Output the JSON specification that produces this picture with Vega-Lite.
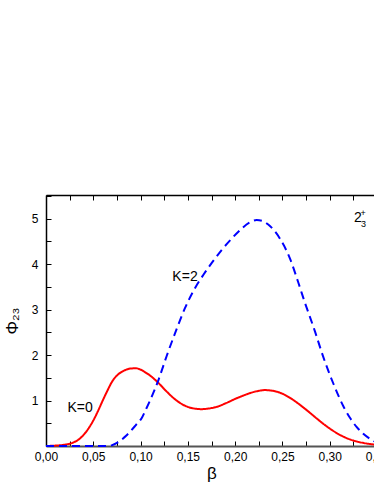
{
  "$schema": "https://vega.github.io/schema/vega-lite/v6.json",
  "autosize": {"type": "none"},
  "width": 328,
  "height": 251,
  "padding": {"left": 46, "top": 195, "right": 0, "bottom": 38},
  "background": "white",
  "config": {
    "view": {"stroke": null},
    "font": "Liberation Sans",
    "axis": {"grid": false, "labelFont": "Liberation Sans", "titleFont": "Liberation Sans", "labelColor": "black", "titleColor": "black", "tickColor": "black", "labelFlush": false, "labelOverlap": false, "labelBound": false}
  },
  "datasets": {
    "curves": [
      {"beta": 0.0, "phi": 0, "K": "K=0"},
      {"beta": 0.01, "phi": 0.01, "K": "K=0"},
      {"beta": 0.02, "phi": 0.03, "K": "K=0"},
      {"beta": 0.028, "phi": 0.07, "K": "K=0"},
      {"beta": 0.035, "phi": 0.15, "K": "K=0"},
      {"beta": 0.04, "phi": 0.25, "K": "K=0"},
      {"beta": 0.046, "phi": 0.42, "K": "K=0"},
      {"beta": 0.05, "phi": 0.56, "K": "K=0"},
      {"beta": 0.055, "phi": 0.77, "K": "K=0"},
      {"beta": 0.06, "phi": 1.0, "K": "K=0"},
      {"beta": 0.065, "phi": 1.22, "K": "K=0"},
      {"beta": 0.07, "phi": 1.42, "K": "K=0"},
      {"beta": 0.075, "phi": 1.55, "K": "K=0"},
      {"beta": 0.08, "phi": 1.63, "K": "K=0"},
      {"beta": 0.085, "phi": 1.68, "K": "K=0"},
      {"beta": 0.09, "phi": 1.705, "K": "K=0"},
      {"beta": 0.095, "phi": 1.71, "K": "K=0"},
      {"beta": 0.1, "phi": 1.68, "K": "K=0"},
      {"beta": 0.105, "phi": 1.62, "K": "K=0"},
      {"beta": 0.11, "phi": 1.55, "K": "K=0"},
      {"beta": 0.1187, "phi": 1.39, "K": "K=0"},
      {"beta": 0.127, "phi": 1.21, "K": "K=0"},
      {"beta": 0.1346, "phi": 1.06, "K": "K=0"},
      {"beta": 0.1415, "phi": 0.95, "K": "K=0"},
      {"beta": 0.1487, "phi": 0.87, "K": "K=0"},
      {"beta": 0.1565, "phi": 0.825, "K": "K=0"},
      {"beta": 0.1645, "phi": 0.81, "K": "K=0"},
      {"beta": 0.172, "phi": 0.825, "K": "K=0"},
      {"beta": 0.1804, "phi": 0.86, "K": "K=0"},
      {"beta": 0.19, "phi": 0.94, "K": "K=0"},
      {"beta": 0.2016, "phi": 1.05, "K": "K=0"},
      {"beta": 0.21, "phi": 1.12, "K": "K=0"},
      {"beta": 0.2191, "phi": 1.185, "K": "K=0"},
      {"beta": 0.227, "phi": 1.22, "K": "K=0"},
      {"beta": 0.2315, "phi": 1.23, "K": "K=0"},
      {"beta": 0.238, "phi": 1.22, "K": "K=0"},
      {"beta": 0.245, "phi": 1.19, "K": "K=0"},
      {"beta": 0.252, "phi": 1.13, "K": "K=0"},
      {"beta": 0.258, "phi": 1.06, "K": "K=0"},
      {"beta": 0.265, "phi": 0.96, "K": "K=0"},
      {"beta": 0.275, "phi": 0.8, "K": "K=0"},
      {"beta": 0.286, "phi": 0.61, "K": "K=0"},
      {"beta": 0.295, "phi": 0.46, "K": "K=0"},
      {"beta": 0.307, "phi": 0.29, "K": "K=0"},
      {"beta": 0.315, "phi": 0.2, "K": "K=0"},
      {"beta": 0.325, "phi": 0.12, "K": "K=0"},
      {"beta": 0.335, "phi": 0.07, "K": "K=0"},
      {"beta": 0.344, "phi": 0.04, "K": "K=0"},
      {"beta": 0.35, "phi": 0.03, "K": "K=0"},
      {"beta": 0.0, "phi": 0, "K": "K=2"},
      {"beta": 0.065, "phi": 0, "K": "K=2"},
      {"beta": 0.07, "phi": 0.02, "K": "K=2"},
      {"beta": 0.075, "phi": 0.07, "K": "K=2"},
      {"beta": 0.08, "phi": 0.14, "K": "K=2"},
      {"beta": 0.085, "phi": 0.23, "K": "K=2"},
      {"beta": 0.09, "phi": 0.34, "K": "K=2"},
      {"beta": 0.095, "phi": 0.46, "K": "K=2"},
      {"beta": 0.1011, "phi": 0.61, "K": "K=2"},
      {"beta": 0.106, "phi": 0.82, "K": "K=2"},
      {"beta": 0.11, "phi": 1.0, "K": "K=2"},
      {"beta": 0.1187, "phi": 1.44, "K": "K=2"},
      {"beta": 0.1276, "phi": 1.98, "K": "K=2"},
      {"beta": 0.1381, "phi": 2.57, "K": "K=2"},
      {"beta": 0.1469, "phi": 3.03, "K": "K=2"},
      {"beta": 0.1575, "phi": 3.47, "K": "K=2"},
      {"beta": 0.1663, "phi": 3.76, "K": "K=2"},
      {"beta": 0.1751, "phi": 4.02, "K": "K=2"},
      {"beta": 0.1857, "phi": 4.31, "K": "K=2"},
      {"beta": 0.1963, "phi": 4.56, "K": "K=2"},
      {"beta": 0.2068, "phi": 4.78, "K": "K=2"},
      {"beta": 0.215, "phi": 4.91, "K": "K=2"},
      {"beta": 0.2227, "phi": 4.97, "K": "K=2"},
      {"beta": 0.229, "phi": 4.95, "K": "K=2"},
      {"beta": 0.235, "phi": 4.87, "K": "K=2"},
      {"beta": 0.2474, "phi": 4.56, "K": "K=2"},
      {"beta": 0.258, "phi": 4.12, "K": "K=2"},
      {"beta": 0.2667, "phi": 3.6, "K": "K=2"},
      {"beta": 0.2738, "phi": 3.15, "K": "K=2"},
      {"beta": 0.2844, "phi": 2.52, "K": "K=2"},
      {"beta": 0.293, "phi": 1.97, "K": "K=2"},
      {"beta": 0.3037, "phi": 1.38, "K": "K=2"},
      {"beta": 0.3143, "phi": 0.88, "K": "K=2"},
      {"beta": 0.3214, "phi": 0.62, "K": "K=2"},
      {"beta": 0.3284, "phi": 0.42, "K": "K=2"},
      {"beta": 0.3355, "phi": 0.27, "K": "K=2"},
      {"beta": 0.3425, "phi": 0.16, "K": "K=2"},
      {"beta": 0.35, "phi": 0.07, "K": "K=2"}
    ],
    "labels": [
      {"beta": 0.036, "phi": 0.84, "text": "K=0"},
      {"beta": 0.147, "phi": 3.72, "text": "K=2"},
      {"beta": 0.3298, "phi": 5.01, "text": "2"}
    ],
    "scripts": [
      {"beta": 0.3356, "phi": 4.88, "text": "3"},
      {"beta": 0.3354, "phi": 5.13, "text": "+"}
    ]
  },
  "resolve": {"axis": {"x": "independent", "y": "independent"}},
  "layer": [
    {
      "data": {"name": "curves"},
      "mark": {"type": "line", "strokeWidth": 2, "interpolate": "monotone"},
      "encoding": {
        "x": {
          "field": "beta", "type": "quantitative",
          "scale": {"domain": [0, 0.35], "range": [0, 331], "nice": false, "zero": false},
          "axis": {
            "orient": "bottom",
            "values": [0, 0.025, 0.05, 0.075, 0.1, 0.125, 0.15, 0.175, 0.2, 0.225, 0.25, 0.275, 0.3, 0.325, 0.35],
            "labelExpr": "round(datum.value*1000) % 50 == 0 ? replace(format(datum.value, '.2f'), '.', ',') : ''",
            "tickSize": -5, "tickWidth": 1, "labelPadding": 10, "labelFontSize": 12,
            "domainColor": "#555555", "domainWidth": 2,
            "title": "β", "titleFontSize": 17, "titleFontWeight": "normal", "titlePadding": 3
          }
        },
        "y": {
          "field": "phi", "type": "quantitative",
          "scale": {"domain": [0, 5.52], "nice": false},
          "axis": {
            "orient": "left",
            "values": [0, 0.5, 1, 1.5, 2, 2.5, 3, 3.5, 4, 4.5, 5, 5.5],
            "labelExpr": "datum.value >= 1 && datum.value % 1 == 0 ? format(datum.value, 'd') : ''",
            "tickSize": -5, "tickWidth": 1, "labelPadding": 13, "labelFontSize": 12,
            "domainColor": "black", "domainWidth": 1.5,
            "title": "Φ₂₃", "titleFontSize": 17, "titleFontWeight": "normal", "titlePadding": 10
          }
        },
        "color": {"field": "K", "type": "nominal", "scale": {"domain": ["K=0", "K=2"], "range": ["#ff0000", "#0000ff"]}, "legend": null},
        "strokeDash": {"field": "K", "type": "nominal", "scale": {"domain": ["K=0", "K=2"], "range": [[1, 0], [8, 5]]}, "legend": null}
      }
    },
    {
      "data": {"name": "labels"},
      "mark": {"type": "text", "fontSize": 14, "font": "Liberation Sans", "color": "black", "align": "center", "baseline": "middle"},
      "encoding": {
        "x": {
          "field": "beta", "type": "quantitative",
          "axis": {
            "orient": "top",
            "values": [0, 0.025, 0.05, 0.075, 0.1, 0.125, 0.15, 0.175, 0.2, 0.225, 0.25, 0.275, 0.3, 0.325, 0.35],
            "labels": false, "tickSize": -5, "tickWidth": 1, "domainColor": "black", "domainWidth": 1.5, "title": null
          }
        },
        "y": {"field": "phi", "type": "quantitative", "axis": null},
        "text": {"field": "text"}
      }
    },
    {
      "data": {"name": "scripts"},
      "mark": {"type": "text", "fontSize": 9, "font": "Liberation Sans", "color": "black", "align": "center", "baseline": "middle"},
      "encoding": {
        "x": {"field": "beta", "type": "quantitative", "axis": null},
        "y": {"field": "phi", "type": "quantitative", "axis": null},
        "text": {"field": "text"}
      }
    }
  ]
}
